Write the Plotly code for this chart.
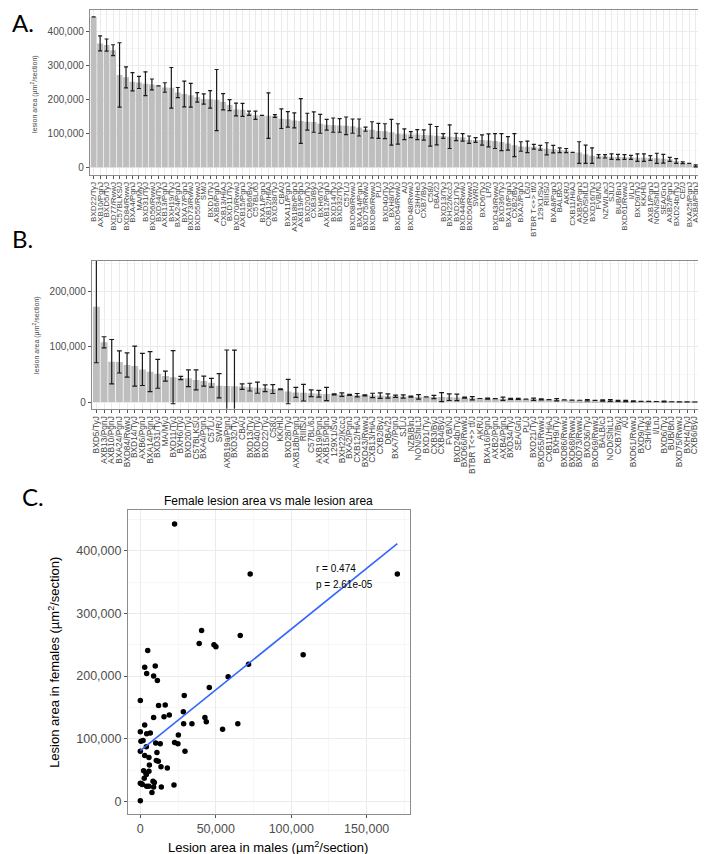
import plotly.graph_objects as go

W, H = 706, 854

# ---------------- Panel A: females ----------------
strains_female = [
    "BXD22/TyJ", "AXB10/PgnJ", "BXD5/TyJ", "BXD77/RwwJ", "C57BLKS/J", "BXD84/RwwJ", "BXA4/PgnJ", "MA/MyJ",
    "BXD31/TyJ", "BXD56/RwwJ", "BXD34/TyJ", "AXB13/PgnJ", "BXH19/TyJ", "BXA24/PgnJ", "BXA7/PgnJ", "BXD73/RwwJ",
    "BXD55/RwwJ", "SM/J", "BXD1/TyJ", "AXB6/PgnJ", "CXB13/HiAJ", "BXD11/TyJ", "BXD70/RwwJ", "AXB15/PgnJ",
    "CXB6/ByJ", "C57BL/6J", "BXA1/PgnJ", "CXB12/HiAJ", "BXD38/TyJ", "CBA/J", "BXA11/PgnJ", "AXB18b/PgnJ",
    "AXB19/PgnJ", "BXD20/TyJ", "CXB3/ByJ", "BXH6/TyJ", "AXB12/PgnJ", "BXD14/TyJ", "BXD32/TyJ", "C57L/J",
    "BXD68/RwwJ", "BXA14/PgnJ", "BXD75/RwwJ", "BXD86/RwwJ", "PL/J", "BXD40/TyJ", "BXH8/TyJ", "BXD64/RwwJ",
    "A/J", "BXD48/RwwJ", "C3H/HeJ", "CXB7/ByJ", "C58/J", "DBA/2J", "BXD13/TyJ", "BXH22/KccJ",
    "BXD21/TyJ", "BXD44/RwwJ", "BXD50/RwwJ", "SWR/J", "BXD6/TyJ", "LP/J", "BXD43/RwwJ", "BXD36/TyJ",
    "BXA16/PgnJ", "CXB2/ByJ", "BXA2/PgnJ", "LG/J", "BTBR T<+> tf/J", "129X1/SvJ", "RIIIS/J", "BXA8/PgnJ",
    "BALB/cJ", "AKR/J", "CXB11/HiAJ", "AXB5/PgnJ", "NOD/ShiLtJ", "BXD16/TyJ", "FVB/NJ", "NZW/LacJ",
    "SJL/J", "BUB/BnJ", "BXD61/RwwJ", "I/LnJ", "BXD9/TyJ", "KK/HlJ", "AXB1/PgnJ", "NON/ShiLtJ",
    "SEA/GnJ", "AXB2/PgnJ", "BXD24b/TyJ", "CE/J", "BXA25/PgnJ", "AXB8/PgnJ", "CXB8/HiAJ",
]
female_mean = [
    443000, 365000, 360000, 345000, 272000, 265000, 252000, 250000, 246000, 244000, 240000, 235000,
    234000, 220000, 216000, 212000, 206000, 201000, 200000, 198000, 193000, 183000, 170000, 169000,
    159000, 153000, 152500, 152000, 151000, 143000, 141000, 138000, 136000, 134000, 133000, 128000,
    125000, 124000, 123000, 122000, 121000, 117000, 112000, 110000, 107000, 106000, 103000, 98000,
    97000, 96000, 96000, 95000, 94000, 93000, 92000, 90000, 89000, 88000, 81000, 80000,
    80000, 79000, 77000, 74000, 70000, 65000, 61000, 60000, 60000, 57000, 54000, 53000,
    50000, 49000, 43500, 43000, 38000, 34000, 32000, 32000, 31000, 30000, 30000, 29000,
    28000, 28000, 27000, 26000, 25000, 23000, 18000, 13000, 11000, 4000, 3000,
]
female_se = [
    None, 22000, 18000, 16000, 95000, 31000, 27000, 18000, 35000, 16000, None, 14000,
    60000, 15000, 38000, 35000, 14000, 15000, 26000, 90000, 24000, 16000, 19000, 19000,
    6000, 12000, None, 67000, 4000, 29000, 23000, 22000, 66000, 25000, 30000, 28000,
    16000, 21000, 20000, 26000, 21000, 25000, 6000, 24000, 22000, 22000, 38000, 30000,
    16000, 9000, 15000, 15000, 32000, 27000, 7000, 35000, 11000, 11000, 11000, 7000,
    15000, 19000, 22000, 25000, 20000, 34000, 14000, 17000, 7000, 7000, 18000, 11000,
    7000, 6000, None, 32000, 27000, 23000, 5000, 5000, 8000, 8000, 7000, 6000,
    11000, 11000, 7000, 15000, 13000, 6000, 7000, 2500, None, 3000, 1000,
]

# ---------------- Panel B: males ----------------
strains_male = [
    "BXD5/TyJ", "AXB13/PgnJ", "AXB10/PgnJ", "BXA24/PgnJ", "BXD84/RwwJ", "BXD14/TyJ", "AXB6/PgnJ", "BXA14/PgnJ",
    "BXD31/TyJ", "MA/MyJ", "BXD11/TyJ", "BXH6/TyJ", "BXD20/TyJ", "C57BLKS/J", "BXA4/PgnJ", "C57L/J",
    "SWR/J", "AXB19a/PgnJ", "BXD32/TyJ", "CBA/J", "BXD13/TyJ", "BXD40/TyJ", "BXD22/TyJ", "C58/J",
    "KK/HlJ", "BXD28/TyJ", "AXB18b/PgnJ", "RIIIS/J", "C57BL/6J", "AXB19/PgnJ", "AXB15/PgnJ", "129X1/SvJ",
    "BXH22/KccJ", "BXA2/PgnJ", "CXB12/HiAJ", "BXD43/RwwJ", "CXB13/HiAJ", "CXB2/ByJ", "DBA/2J", "BXA7/PgnJ",
    "SJL/J", "NZB/BlnJ", "NON/ShiLtJ", "BXD1/TyJ", "CXB3/ByJ", "CXB4/ByJ", "FVB/NJ", "BXD24b/TyJ",
    "BXD66/RwwJ", "BTBR T<+> tf/J", "AKR/J", "BXA16/PgnJ", "AXB2/PgnJ", "AXB4/PgnJ", "BXD34/TyJ", "SEA/GnJ",
    "PL/J", "BXD21/TyJ", "BXD55/RwwJ", "CXB11/HiAJ", "BXH9/TyJ", "BXD86/RwwJ", "BXD68/RwwJ", "BXD73/RwwJ",
    "BXD36/TyJ", "BXD69/RwwJ", "BALB/cJ", "NOD/ShiLtJ", "CXB7/ByJ", "A/J", "BXD61/RwwJ", "BXD9/TyJ",
    "C3H/HeJ", "I/LnJ", "BXD6/TyJ", "BUB/BnJ", "BXD75/RwwJ", "BXH4/TyJ", "CXB6/ByJ", "CXB8/HiAJ",
]
male_mean = [
    172000, 108000, 73000, 72500, 67000, 65000, 59000, 55000, 51000, 47000, 45000, 43500,
    43000, 40000, 38000, 35000, 29500, 29000, 28800, 28000, 27000, 26000, 25000, 23500,
    23000, 19000, 17500, 17000, 16000, 15000, 14500, 14000, 13500, 13000, 12500, 12200,
    12000, 11800, 11000, 10500, 10200, 10000, 9500, 9300, 9100, 9000, 8900, 8500,
    8000, 7000, 6500, 6300, 6200, 6000, 5900, 5800, 5300, 5200, 5000, 4500,
    4300, 4000, 3500, 3300, 3200, 3000, 2900, 2800, 2300, 2000, 1500, 1300,
    1200, 1100, 1000, 600, 500, 300, 200, 200,
]
male_se = [
    101000, 10000, 40000, 20000, 22000, 36000, 29000, 36000, 26000, 9000, 48000, 3000,
    15000, 18000, 9000, 8000, 22000, 65000, 65000, 5000, 7000, 10000, 6000, 8000,
    700, 22000, 9000, 15000, 6000, 6000, 12000, 1000, 3000, 1000, 3000, 1000,
    4000, 5000, 4000, 2000, 3000, 1000, 4000, None, 3000, 8000, 6000, 6000,
    1000, 3000, None, 1000, None, 3000, 1000, 1000, None, 2000, 1000, None,
    2000, None, None, None, 1200, None, 1000, 1500, 1000, 1000, 800, None,
    None, None, 800, None, None, None, None, 500,
]

# ---------------- Panel C: scatter ----------------
lesion_male = [
    72800, 170300, 40600, 39000, 66200, 48800, 50100, 107900, 4900, 71700, 2900, 9900,
    4200, 8800, 11300, 58200, 45700, 0, 29100, 12100, 16500, 28500, 19200, 15700,
    8800, 42800, 43700, 34200, 28700, 64600, 54500, 2900, 0, 4200, 6600, 25200,
    400, 1800, 10200, 13200, 22700, 24900, 4000, 0, 11000, 29600, 2900, 5700,
    10600, 11900, 6000, 13700, 17900, 2200, 5700, 3800, 4000, 2600, 0, 900,
    1300, 8400, 9300, 4200, 5700, 8800, 13900, 22300, 7700, 0, 22700,
]
lesion_female = [
    363000, 363000, 273000, 252000, 265000, 250000, 247000, 234000, 241000, 219000, 214000, 216000,
    204000, 200000, 193000, 199000, 182000, 161000, 169000, 153000, 154000, 143000, 138000, 135000,
    134000, 134000, 127000, 124000, 124000, 124000, 115000, 122000, 111000, 108000, 109000, 106000,
    96000, 97000, 93000, 92000, 94000, 92000, 87000, 80000, 78000, 80000, 73000, 70000,
    65000, 64000, 58000, 55000, 53000, 49000, 48000, 45000, 43000, 37000, 29000, 28000,
    27000, 32000, 30000, 24000, 24000, 23000, 23000, 26000, 14000, 1000, 443000,
]
fit_male = [0, 170300]
fit_female = [80800, 411600]
stat_labels = ["r = 0.474", "p = 2.61e-05"]

FONT = "Liberation Sans, Arial, Helvetica, sans-serif"
BAR = "#BEBEBE"
GRID = "#EBEBEB"
MINOR = "#F7F7F7"
FRAME = "#8C8C8C"
TICKC = "#555555"


def fx(px):
    return px / W


def fy(py):
    return 1 - py / H


fig = go.Figure()
fig.add_trace(go.Bar(
    x=strains_female, y=female_mean, width=0.9,
    marker=dict(color=BAR, line=dict(width=0)),
    error_y=dict(type="data", array=female_se, color="#1A1A1A", thickness=1.2, width=2),
    xaxis="x", yaxis="y",
))
fig.add_trace(go.Bar(
    x=strains_male, y=male_mean, width=0.9,
    marker=dict(color=BAR, line=dict(width=0)),
    error_y=dict(type="data", array=male_se, color="#1A1A1A", thickness=1.2, width=2.4),
    xaxis="x2", yaxis="y2",
))
fig.add_trace(go.Scatter(
    x=lesion_male, y=lesion_female, mode="markers",
    marker=dict(color="black", size=5.5),
    xaxis="x3", yaxis="y3",
))
fig.add_trace(go.Scatter(
    x=fit_male, y=fit_female, mode="lines",
    line=dict(color="#3366FF", width=1.6),
    xaxis="x3", yaxis="y3",
))

cat_axis = dict(
    type="category", showgrid=True, gridcolor=GRID, gridwidth=1,
    showline=True, mirror=True, linecolor=FRAME, linewidth=1,
    ticks="outside", ticklen=3, tickcolor=TICKC, tickwidth=1,
    tickangle=-90, zeroline=False, fixedrange=True, tickmode="array",
)
val_axis = dict(
    showgrid=True, gridcolor=GRID, gridwidth=1,
    minor=dict(showgrid=True, gridcolor=MINOR, ticks=""),
    showline=True, mirror=True, linecolor=FRAME, linewidth=1,
    ticks="outside", ticklen=3, tickcolor=TICKC, tickwidth=1,
    tickformat=",d", zeroline=False, fixedrange=True,
)

fig.update_layout(
    width=W, height=H, margin=dict(l=0, r=0, t=0, b=0),
    paper_bgcolor="white", plot_bgcolor="white", showlegend=False,
    font=dict(family=FONT, color="#222"),
    xaxis=dict(cat_axis, domain=[fx(81), fx(699)], range=[-0.6, len(strains_female) - 0.4],
               tickvals=strains_female, ticktext=strains_female,
               anchor="y", tickfont=dict(size=8, color="#444")),
    yaxis=dict(val_axis, domain=[fy(166.7), fy(1.5)], range=[-22200, 465000], dtick=100000,
               anchor="x", tickfont=dict(size=10, color="#4D4D4D"), minor_dtick=50000),
    xaxis2=dict(cat_axis, domain=[fx(83), fx(700)], range=[-0.6, len(strains_male) - 0.4],
                tickvals=strains_male, ticktext=strains_male,
                anchor="y2", tickfont=dict(size=8.4, color="#444")),
    yaxis2=dict(val_axis, domain=[fy(400.8), fy(253)], range=[-12100, 254700], dtick=100000,
                anchor="x2", tickfont=dict(size=10, color="#4D4D4D"), minor_dtick=50000),
    xaxis3=dict(val_axis, domain=[fx(119.3), fx(401.7)], range=[-8190, 178400], dtick=50000,
                anchor="y3", tickfont=dict(size=12.5, color="#4D4D4D"), minor_dtick=25000),
    yaxis3=dict(val_axis, domain=[fy(806), fy(502)], range=[-20300, 465400], dtick=100000,
                anchor="x3", tickfont=dict(size=12.5, color="#4D4D4D"), minor_dtick=50000),
)

ann = []
letter_font = dict(family="Lato, Open Sans, sans-serif", size=24, color="black")
for txt, x, y in [("A.", 1, 14), ("B.", 1, 231), ("C.", 11, 488)]:
    ann.append(dict(text=txt, x=fx(x), y=fy(y), xref="paper", yref="paper",
                    xanchor="left", yanchor="middle", showarrow=False, font=letter_font))
small_title = "lesion area (\u00b5m<sup>2</sup>/section)"
ann.append(dict(text=small_title, x=fx(25), y=fy(86), xref="paper", yref="paper", textangle=-90,
                xanchor="center", yanchor="middle", showarrow=False, font=dict(size=7, color="#444")))
ann.append(dict(text=small_title, x=fx(27), y=fy(327), xref="paper", yref="paper", textangle=-90,
                xanchor="center", yanchor="middle", showarrow=False, font=dict(size=7, color="#444")))
ann.append(dict(text="Female lesion area vs male lesion area", x=fx(260.5), y=fy(493), xref="paper",
                yref="paper", xanchor="center", yanchor="middle", showarrow=False,
                font=dict(size=12, color="black")))
ann.append(dict(text="Lesion area in males (\u00b5m<sup>2</sup>/section)", x=fx(260), y=fy(839),
                xref="paper", yref="paper", xanchor="center", yanchor="middle", showarrow=False,
                font=dict(size=13, color="black")))
ann.append(dict(text="Lesion area in females (\u00b5m<sup>2</sup>/section)", x=fx(45), y=fy(654),
                xref="paper", yref="paper", textangle=-90, xanchor="center", yanchor="middle",
                showarrow=False, font=dict(size=13, color="black")))
for txt, yv in zip(stat_labels, [372000, 347000]):
    ann.append(dict(text=txt, x=115000, y=yv, xref="x3", yref="y3", xanchor="left",
                    yanchor="middle", showarrow=False, font=dict(size=10, color="black")))
fig.update_layout(annotations=ann)

fig.write_html("out.html")
